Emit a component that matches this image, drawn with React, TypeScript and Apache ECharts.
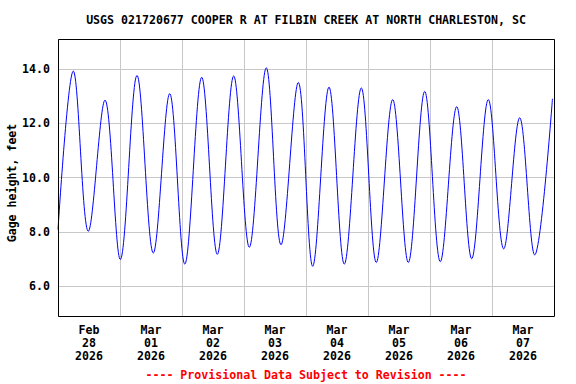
import React, { useEffect, useRef } from "react";
import * as echarts from "echarts";

// Hours since 2026-02-28 00:00 (local) and gage height (feet) at each turning point
const tideHours = [
  0, 5.92, 11.73, 18.19, 24.12, 30.58, 36.89, 43.24, 49.08, 55.63, 61.67, 68.01,
  74.05, 80.63, 86.32, 93.02, 98.59, 104.9, 110.83, 117.41, 123.21, 129.56,
  135.6, 141.95, 147.99, 154.34, 160.14, 166.57, 172.53, 178.72, 184.53, 191.4,
];
const tideFeet = [
  8.08, 13.92, 8.02, 12.85, 6.98, 13.76, 7.22, 13.09, 6.81, 13.69, 7.17, 13.74,
  7.43, 14.04, 7.52, 13.5, 6.73, 13.33, 6.81, 13.3, 6.87, 12.87, 6.87, 13.17,
  6.9, 12.61, 7.01, 12.87, 7.37, 12.2, 7.15, 12.9,
];
const dayLabels = [
  "Feb\n28\n2026",
  "Mar\n01\n2026",
  "Mar\n02\n2026",
  "Mar\n03\n2026",
  "Mar\n04\n2026",
  "Mar\n05\n2026",
  "Mar\n06\n2026",
  "Mar\n07\n2026",
];
const yTicks = [6, 8, 10, 12, 14];
const titleText = "USGS 021720677 COOPER R AT FILBIN CREEK AT NORTH CHARLESTON, SC";
const yName = "Gage height, feet";
const footer = "---- Provisional Data Subject to Revision ----";

const FONT = "'DejaVu Sans Mono', 'Liberation Mono', monospace";
const FS = 11.6;

export default function App() {
  const ref = useRef<HTMLDivElement>(null);
  useEffect(() => {
    if (!ref.current) return;
    const chart = echarts.init(ref.current, null, { renderer: "svg" });
    const data = tideHours.map((h, i) => [h, tideFeet[i]]);
    chart.setOption({
      animation: false,
      backgroundColor: "#fff",
      grid: { left: 58, top: 39, right: 22, bottom: 68, show: false },
      xAxis: [
        {
          type: "value",
          min: 0,
          max: 192,
          interval: 24,
          position: "bottom",
          axisLine: { show: false },
          axisTick: { show: false },
          axisLabel: { show: false },
          splitLine: { show: true, lineStyle: { color: "#c8c8c8", width: 1 } },
        },
        {
          type: "value",
          min: 0,
          max: 192,
          interval: 12,
          position: "bottom",
          axisLine: { show: false },
          axisTick: { show: false },
          splitLine: { show: false },
          axisLabel: {
            show: true,
            margin: 8,
            color: "#000",
            fontFamily: FONT,
            fontWeight: "bold",
            fontSize: FS,
            lineHeight: 12.7,
            formatter: (v: number) =>
              v % 24 === 12 ? dayLabels[(v - 12) / 24] ?? "" : "",
          },
        },
      ],
      yAxis: {
        type: "value",
        min: 4.9,
        max: 15.1,
        splitNumber: 5,
        axisLine: { show: false },
        axisTick: { show: false },
        splitLine: { show: true, lineStyle: { color: "#c8c8c8", width: 1 } },
        axisLabel: {
          showMinLabel: false,
          showMaxLabel: false,
          margin: 8,
          color: "#000",
          fontFamily: FONT,
          fontWeight: "bold",
          fontSize: FS,
          formatter: (v: number) =>
            yTicks.some((t) => Math.abs(t - v) < 1e-6) ? v.toFixed(1) : "",
        },
      },
      series: [
        {
          type: "line",
          xAxisIndex: 0,
          data,
          showSymbol: false,
          smooth: 0.35,
          lineStyle: { color: "#0000ff", width: 1 },
          z: 5,
        },
      ],
      graphic: [
        {
          type: "rect",
          shape: { x: 58.5, y: 39.5, width: 496, height: 277 },
          style: { fill: "transparent", stroke: "#000", lineWidth: 1 },
          z: 100,
          silent: true,
        },
        {
          type: "text",
          x: 306,
          y: 20,
          style: {
            text: titleText,
            fill: "#000",
            fontFamily: FONT,
            fontWeight: "bold",
            fontSize: FS,
            align: "center",
            verticalAlign: "middle",
          },
        },
        {
          type: "text",
          x: 12,
          y: 183,
          rotation: Math.PI / 2,
          style: {
            text: yName,
            fill: "#000",
            fontFamily: FONT,
            fontWeight: "bold",
            fontSize: FS,
            align: "center",
            verticalAlign: "middle",
          },
        },
        {
          type: "text",
          x: 306,
          y: 375,
          style: {
            text: footer,
            fill: "#ff0000",
            fontFamily: FONT,
            fontWeight: "bold",
            fontSize: FS,
            align: "center",
            verticalAlign: "middle",
          },
        },
      ],
    });
    return () => chart.dispose();
  }, []);
  return (
    <div
      ref={ref}
      style={{
        position: "fixed",
        left: 0,
        top: 0,
        width: 576,
        height: 384,
        background: "#fff",
      }}
    />
  );
}
